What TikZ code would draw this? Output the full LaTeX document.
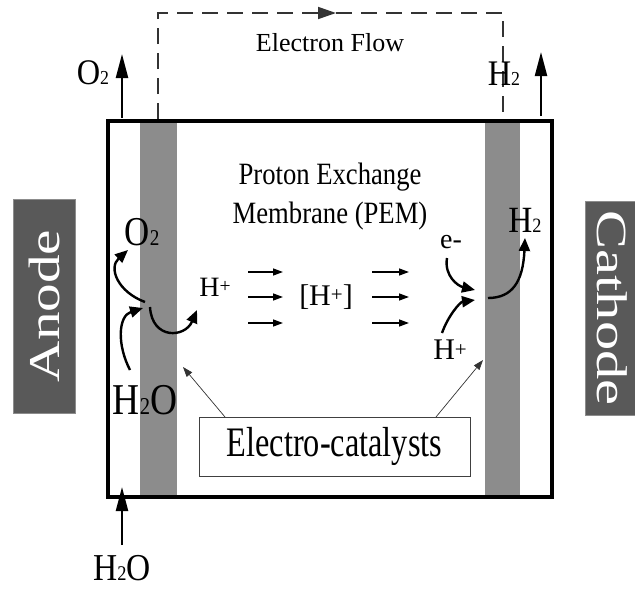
\documentclass[tikz,border=0pt]{standalone}
\usepackage{fontspec}
\setmainfont{Liberation Serif}
\usetikzlibrary{arrows.meta}
\newcommand\sbt[1]{\scalebox{0.55}{#1}}
\newcommand\pls{\raisebox{0.12em}{\scalebox{0.7}{+}}}
\begin{document}
\begin{tikzpicture}[x=1pt,y=-1pt,
  fs/.style={font=\fontsize{#1}{#1}\selectfont},
  lbl/.style={inner sep=0pt, text=black},
  flow/.style={line width=2.4pt, -{Triangle[length=13pt,width=11pt]}},
  vflow/.style={line width=2.2pt, -{Triangle[length=24pt,width=12pt]}},
  thinarr/.style={line width=0.7pt, draw=black!80, -{Triangle[length=10pt,width=7pt]}},
  harr/.style={line width=1.4pt, -{Triangle[length=10pt,width=7pt]}},
  eflow/.style={line width=1.8pt, draw=black!80, dash pattern=on 16pt off 9pt},
  band/.style={fill=black!45, draw=none},
  electrode/.style={fill=black!65, draw=black!45, line width=0.6pt, text=white, inner sep=0pt}
]
\useasboundingbox (0,0) rectangle (635,590);

% electrode labels
\node[electrode, rotate=90, minimum width=214pt, minimum height=62pt] (anode) at (44,306)
  {\fontsize{44}{44}\selectfont\scalebox{1.3}[1]{Anode}};
\node[electrode, rotate=-90, minimum width=214pt, minimum height=54pt] (cathode) at (612,308)
  {\fontsize{43}{43}\selectfont\scalebox{1.36}[1]{Cathode}};

% catalyst bands
\fill[band] (140,121) rectangle (177,497);
\fill[band] (485,121) rectangle (520,497);

% cell box
\draw[line width=4pt] (108,121) rectangle (552,497);

% electron flow
\coordinate (efl) at (158,119);
\coordinate (efm) at (336,13);
\coordinate (efr) at (503,119);
\draw[eflow, -{Triangle[length=18pt,width=12pt]}] (efl) |- (efm);
\draw[eflow] (efm) -| (efr);
\node[lbl, fs=26] (eflabel) at (330,43) {Electron Flow};

% top outputs
\coordinate (o2b) at (122,118);
\coordinate (o2t) at (122,54);
\draw[vflow] (o2b) -- (o2t);
\node[lbl, fs=36] (o2top) at (93,73) {\scalebox{0.9}[1]{O\sbt{2}}};
\coordinate (h2b) at (541,116);
\coordinate (h2t) at (541,52);
\draw[vflow] (h2b) -- (h2t);
\node[lbl, fs=36] (h2top) at (504,74) {\scalebox{0.9}[1]{H\sbt{2}}};

% membrane label
\node[lbl, fs=31] (pem1) at (330,177) {\scalebox{0.86}[1]{Proton Exchange}};
\node[lbl, fs=31] (pem2) at (330,216) {\scalebox{0.86}[1]{Membrane (PEM)}};

% anode side reaction
\node[lbl, fs=41] (o2in) at (142,232) {\scalebox{0.85}[1]{O\sbt{2}}};
\node[lbl, fs=44] (h2oin) at (145,400) {\scalebox{0.85}[1]{H\sbt{2}O}};
\node[lbl, fs=28] (hpl) at (215,287) {H\pls};
\coordinate (a1) at (145,302);
\coordinate (a1t) at (128,250);
\draw[flow] (a1) .. controls (118,292) and (108,268) .. (a1t);
\coordinate (a2) at (130,370);
\coordinate (a2t) at (143,308);
\draw[flow] (a2) .. controls (117,345) and (118,316) .. (a2t);
\coordinate (a3) at (150,307);
\coordinate (a3t) at (197,310);
\draw[flow] (a3) .. controls (152,340) and (185,338) .. (a3t);

% proton transport
\node[lbl, fs=30] (hmid) at (326,297) {[H\pls]};
\foreach \y/\n in {272/1,297/2,323/3}{
  \coordinate (l\n a) at (248,\y); \coordinate (l\n b) at (283,\y);
  \coordinate (r\n a) at (372,\y); \coordinate (r\n b) at (409,\y);
  \draw[harr] (l\n a) -- (l\n b);
  \draw[harr] (r\n a) -- (r\n b);
}

% cathode side reaction
\node[lbl, fs=28] (em) at (451,242) {e-};
\node[lbl, fs=30] (hpr) at (450,350) {H\pls};
\node[lbl, fs=37] (h2in) at (525,220) {\scalebox{0.9}[1]{H\sbt{2}}};
\coordinate (c1) at (447,258);
\coordinate (c1t) at (475,290);
\draw[flow] (c1) .. controls (444,276) and (458,286) .. (c1t);
\coordinate (c2) at (442,333);
\coordinate (c2t) at (475,300);
\draw[flow] (c2) .. controls (448,316) and (460,302) .. (c2t);
\coordinate (c3) at (488,298);
\coordinate (c3t) at (525,238);
\draw[flow] (c3) .. controls (512,298) and (523,282) .. (c3t);

% electro-catalysts
\node[draw=black!75, line width=0.9pt, minimum width=271pt, minimum height=59pt, inner sep=0pt] (cat) at (334.5,446.5)
  {\fontsize{42}{42}\selectfont\scalebox{0.77}[1]{Electro-catalysts}};
\coordinate (cl) at (225,417);
\coordinate (clt) at (183,367);
\coordinate (cr) at (436,417);
\coordinate (crt) at (483,360);
\draw[thinarr] (cl) -- (clt);
\draw[thinarr] (cr) -- (crt);

% bottom input
\coordinate (inb) at (122,545);
\coordinate (int) at (122,487);
\draw[vflow] (inb) -- (int);
\node[lbl, fs=38, anchor=base, text depth=0pt] (h2obot) at (122,580) {\scalebox{0.88}[1]{H\sbt{2}O}};
\end{tikzpicture}
\end{document}
